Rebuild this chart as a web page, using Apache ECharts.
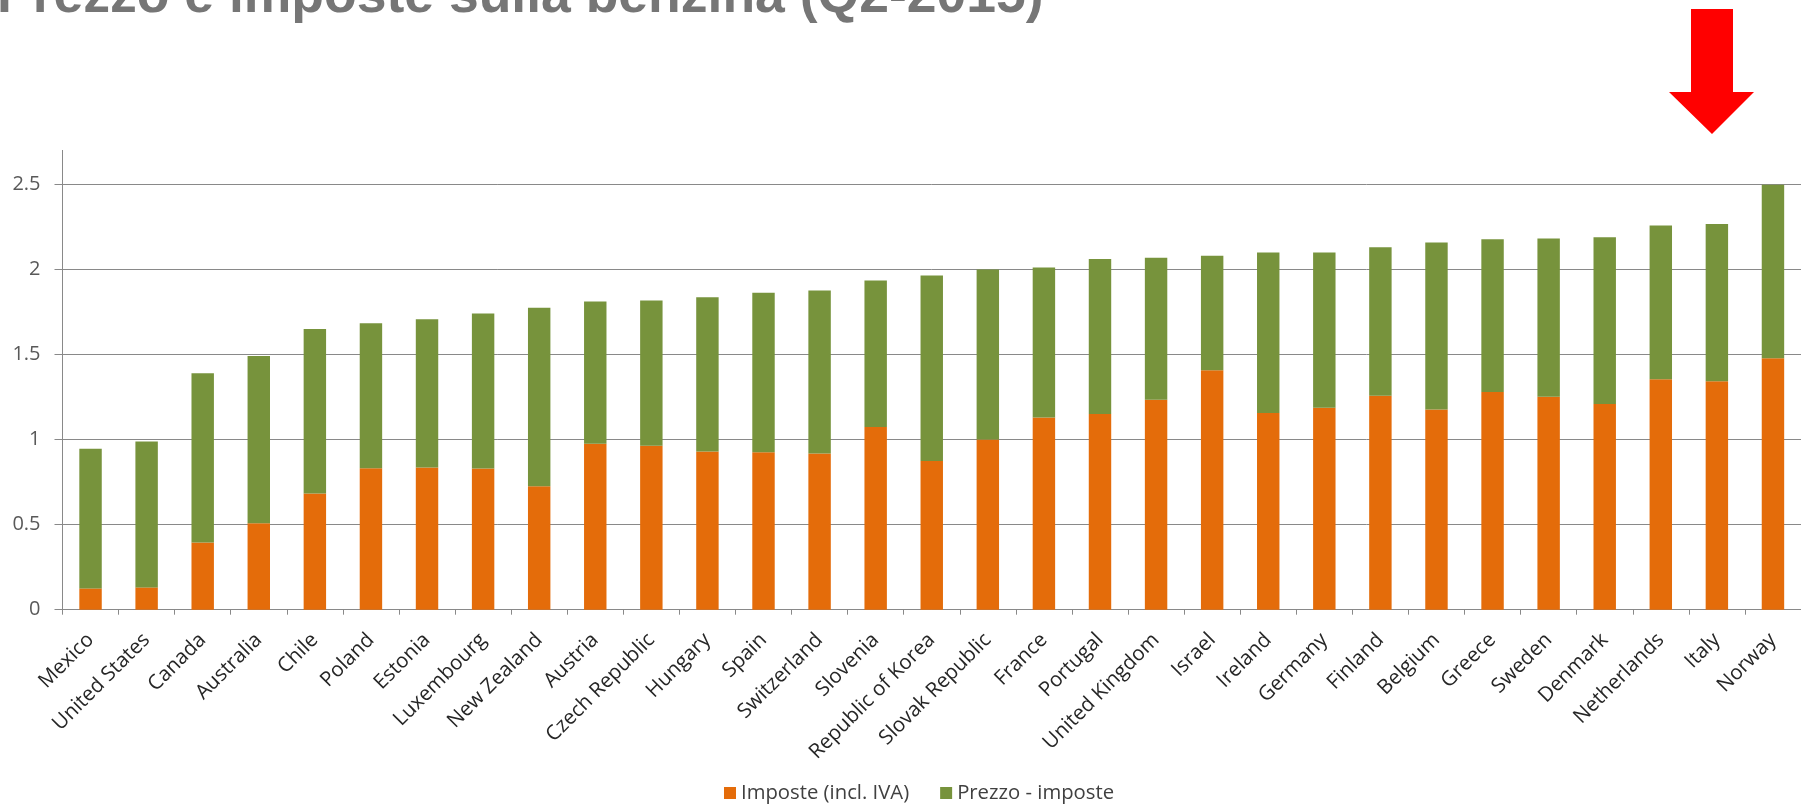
<!DOCTYPE html>
<html>
<head>
<meta charset="utf-8">
<script src="https://cdn.jsdelivr.net/npm/echarts@6/dist/echarts.min.js"></script>
<style>
html,body{margin:0;padding:0;background:#ffffff;}
#chart{width:1801px;height:805px;}
</style>
</head>
<body>
<div id="chart"></div>
<script>
const titleText = 'Prezzo e imposte sulla benzina (Q2-2015)';
const categories = ['Mexico','United States','Canada','Australia','Chile','Poland','Estonia','Luxembourg','New Zealand','Austria','Czech Republic','Hungary','Spain','Switzerland','Slovenia','Republic of Korea','Slovak Republic','France','Portugal','United Kingdom','Israel','Ireland','Germany','Finland','Belgium','Greece','Sweden','Denmark','Netherlands','Italy','Norway'];
const seriesNames = ['Imposte (incl. IVA)', 'Prezzo - imposte'];
const taxes = [0.125,0.131,0.394,0.508,0.682,0.831,0.835,0.829,0.725,0.975,0.963,0.929,0.925,0.918,1.073,0.873,1.000,1.129,1.149,1.233,1.406,1.155,1.186,1.257,1.175,1.278,1.251,1.208,1.353,1.341,1.476];
const priceMinusTax = [0.820,0.857,0.994,0.982,0.967,0.851,0.871,0.910,1.048,0.835,0.853,0.906,0.936,0.957,0.860,1.090,0.998,0.881,0.910,0.834,0.672,0.943,0.912,0.872,0.982,0.897,0.929,0.980,0.904,0.924,1.020];
const yMin = 0, yMax = 2.5, yInterval = 0.5;

const FONT = '"Open Sans", "Liberation Sans", sans-serif';
const chart = echarts.init(document.getElementById('chart'), null, {renderer: 'canvas'});
chart.setOption({
  animation: false,
  backgroundColor: '#ffffff',
  title: {
    text: titleText,
    left: -3,
    top: -30,
    padding: 0,
    textStyle: {
      fontFamily: '"Liberation Sans", Arial, sans-serif',
      fontSize: 53.5,
      fontWeight: 'bold',
      color: '#767676'
    }
  },
  legend: {
    data: seriesNames,
    left: 724,
    top: 783,
    padding: 0,
    icon: 'rect',
    itemWidth: 12,
    itemHeight: 12,
    itemGap: 31,
    textStyle: { fontFamily: FONT, fontSize: 20.3, color: '#404040' }
  },
  grid: { left: 62.5, right: -5, top: 184, bottom: 195.3, containLabel: false },
  xAxis: {
    type: 'category',
    data: categories,
    boundaryGap: true,
    axisLine: { show: true, lineStyle: { color: '#898989', width: 1 } },
    axisTick: { show: true, length: 5, alignWithLabel: false, lineStyle: { color: '#898989' } },
    axisLabel: {
      interval: 0,
      rotate: 45,
      margin: 27,
      fontFamily: FONT,
      fontSize: 20.5,
      color: '#262626'
    },
    splitLine: { show: false }
  },
  yAxis: {
    type: 'value',
    min: yMin,
    max: yMax,
    interval: yInterval,
    axisLine: { show: true, lineStyle: { color: '#898989', width: 1 } },
    axisTick: { show: true, length: 8, lineStyle: { color: '#898989' } },
    axisLabel: { margin: 22, fontFamily: FONT, fontSize: 20, color: '#595959' },
    splitLine: { show: true, lineStyle: { color: '#898989', width: 1 } }
  },
  series: [
    {
      name: seriesNames[0],
      type: 'bar',
      stack: 'total',
      data: taxes,
      barWidth: '40%',
      itemStyle: { color: '#E46C0A' }
    },
    {
      name: seriesNames[1],
      type: 'bar',
      stack: 'total',
      data: priceMinusTax,
      barWidth: '40%',
      itemStyle: { color: '#77933C' }
    }
  ],
  graphic: [
    {
      type: 'line',
      shape: { x1: 62.5, y1: 150, x2: 62.5, y2: 184 },
      style: { stroke: '#898989', lineWidth: 1 },
      silent: true
    },
    {
      type: 'polygon',
      shape: { points: [[1691,9],[1733,9],[1733,92],[1754,92],[1712,134],[1669,92],[1691,92]] },
      style: { fill: '#FF0000' },
      silent: true
    }
  ]
});
</script>
</body>
</html>
